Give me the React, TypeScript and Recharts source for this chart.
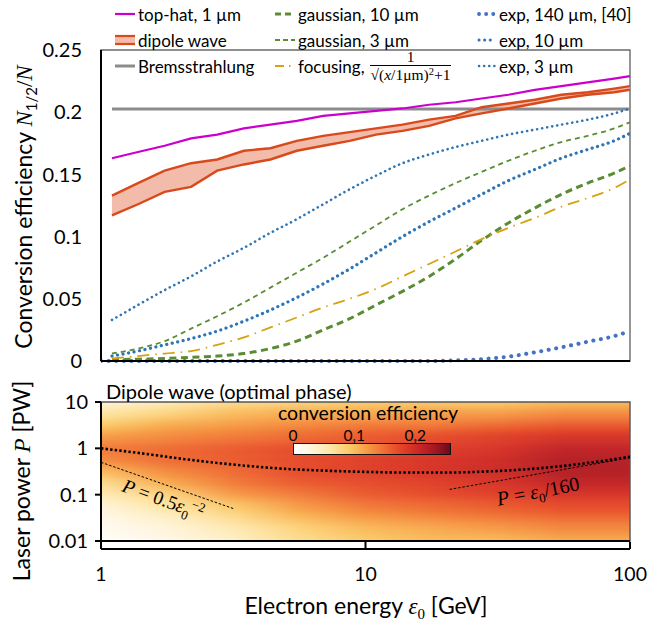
import React from 'react';
import { ComposedChart, Line, Area, XAxis, YAxis, ReferenceArea, ReferenceLine } from 'recharts';

const FONT = 'Lato, "Open Sans", sans-serif';
const MATH = '"Liberation Serif", "DejaVu Serif", serif';

// ---------- top panel: conversion efficiency vs electron energy ----------
// first row (1 GeV) only carries the exp 140 µm curve
const energy = [1, 1.1, 1.38, 1.74, 2.19, 2.75, 3.47, 4.37, 5.5, 6.92, 8.71, 10.96, 13.8, 17.4, 21.9, 27.5, 34.7, 43.7, 55, 69.2, 87.1, 100];
const topHat = [null, 0.163, 0.168, 0.173, 0.179, 0.182, 0.187, 0.19, 0.193, 0.197, 0.199, 0.201, 0.203, 0.206, 0.208, 0.211, 0.214, 0.218, 0.221, 0.224, 0.227, 0.229];
const dipoleHi = [null, 0.133, 0.143, 0.153, 0.159, 0.162, 0.169, 0.171, 0.177, 0.181, 0.184, 0.187, 0.19, 0.194, 0.197, 0.204, 0.207, 0.21, 0.214, 0.216, 0.219, 0.221];
const dipoleLo = [null, 0.117, 0.126, 0.136, 0.14, 0.153, 0.158, 0.162, 0.169, 0.173, 0.177, 0.182, 0.185, 0.189, 0.195, 0.199, 0.203, 0.207, 0.211, 0.214, 0.216, 0.218];
const brems = [null, 0.2026, 0.2026, 0.2026, 0.2026, 0.2026, 0.2026, 0.2026, 0.2026, 0.2026, 0.2026, 0.2026, 0.2026, 0.2026, 0.2026, 0.2026, 0.2026, 0.2026, 0.2026, 0.2026, 0.2026, 0.2026];
const gauss10 = [null, 0.001, 0.0015, 0.002, 0.003, 0.004, 0.006, 0.01, 0.016, 0.025, 0.034, 0.045, 0.056, 0.068, 0.082, 0.097, 0.111, 0.123, 0.134, 0.143, 0.151, 0.157];
const gauss3 = [null, 0.006, 0.01, 0.016, 0.026, 0.036, 0.047, 0.059, 0.071, 0.083, 0.096, 0.109, 0.122, 0.133, 0.143, 0.152, 0.161, 0.169, 0.176, 0.181, 0.187, 0.192];
const focusing = [null, 0.002, 0.004, 0.006, 0.008, 0.013, 0.019, 0.027, 0.035, 0.043, 0.05, 0.058, 0.068, 0.078, 0.088, 0.098, 0.107, 0.115, 0.124, 0.131, 0.139, 0.146];
const exp140 = [0, 0, 0, 0, 0, 0, 0, 0, 0, 0, 0, 0, 0, 0, 0.0005, 0.0015, 0.0035, 0.007, 0.011, 0.0155, 0.02, 0.024];
const exp10 = [null, 0.004, 0.008, 0.013, 0.018, 0.024, 0.032, 0.041, 0.051, 0.062, 0.074, 0.087, 0.1, 0.112, 0.123, 0.134, 0.145, 0.154, 0.163, 0.17, 0.177, 0.183];
const exp3 = [null, 0.033, 0.045, 0.057, 0.068, 0.08, 0.091, 0.103, 0.114, 0.126, 0.138, 0.149, 0.159, 0.166, 0.172, 0.177, 0.182, 0.186, 0.19, 0.194, 0.199, 0.203];
const effTicks = [0, 0.05, 0.1, 0.15, 0.2, 0.25];

const topData = energy.map((x, i) => ({
  x,
  topHat: topHat[i],
  dipoleLo: dipoleLo[i],
  dipoleHi: dipoleHi[i],
  brems: brems[i],
  gauss10: gauss10[i],
  gauss3: gauss3[i],
  focusing: focusing[i],
  exp140: exp140[i],
  exp10: exp10[i],
  exp3: exp3[i],
}));

// ---------- bottom panel: dipole wave efficiency map ----------
const heatE = [1, 1.78, 3.16, 5.62, 10, 17.8, 31.6, 56.2, 100];
const heatP = [10, 5.62, 3.16, 1.78, 1, 0.562, 0.316, 0.178, 0.1, 0.0562, 0.0316, 0.0178, 0.01];
// rows follow heatP (top to bottom), columns follow heatE
const heatEff = [
  [0.03, 0.05, 0.07, 0.08, 0.09, 0.09, 0.09, 0.1, 0.1],
  [0.06, 0.08, 0.1, 0.11, 0.11, 0.12, 0.12, 0.13, 0.13],
  [0.09, 0.11, 0.12, 0.13, 0.14, 0.14, 0.15, 0.16, 0.16],
  [0.12, 0.13, 0.14, 0.15, 0.16, 0.17, 0.18, 0.19, 0.19],
  [0.14, 0.15, 0.16, 0.17, 0.17, 0.18, 0.19, 0.21, 0.21],
  [0.13, 0.15, 0.16, 0.17, 0.18, 0.19, 0.2, 0.22, 0.22],
  [0.1, 0.13, 0.15, 0.17, 0.18, 0.19, 0.2, 0.22, 0.22],
  [0.07, 0.11, 0.14, 0.16, 0.17, 0.18, 0.19, 0.21, 0.21],
  [0.05, 0.08, 0.12, 0.14, 0.16, 0.17, 0.18, 0.19, 0.19],
  [0.03, 0.06, 0.09, 0.12, 0.14, 0.15, 0.16, 0.17, 0.17],
  [0.02, 0.04, 0.07, 0.1, 0.12, 0.13, 0.14, 0.15, 0.15],
  [0.01, 0.03, 0.05, 0.08, 0.1, 0.11, 0.12, 0.13, 0.13],
  [0.005, 0.02, 0.04, 0.07, 0.09, 0.1, 0.1, 0.11, 0.11],
];
const optE = [1, 1.5, 2, 3, 5, 7, 10, 15, 20, 30, 45, 65, 100];
const optP = [1.0, 0.75, 0.6, 0.46, 0.36, 0.33, 0.31, 0.3, 0.3, 0.32, 0.37, 0.46, 0.66];
const lowGuideE = [1, 3.2];
const lowGuideP = [0.5, 0.049];
const highGuideE = [20.8, 100];
const highGuideP = [0.13, 0.625];
const powerTicks = [0.01, 0.1, 1, 10];
const energyTicks = [1, 10, 100];
const cbarTicks = [0, 0.1, 0.2];
const CBAR_MAX = 0.255;

// colour map (white -> yellow -> orange -> red -> dark red)
const CMAP: [number, string][] = [
  [0, '#ffffff'],
  [0.03, '#fff4da'],
  [0.06, '#fde5a4'],
  [0.09, '#fbcb6a'],
  [0.11, '#f8ab4e'],
  [0.13, '#f38a3e'],
  [0.15, '#ee6a32'],
  [0.17, '#e64a2a'],
  [0.19, '#d73326'],
  [0.21, '#c22326'],
  [0.23, '#a41822'],
  [0.255, '#6e0a1c'],
];

function hexToRgb(h: string) {
  return [1, 3, 5].map((i) => parseInt(h.slice(i, i + 2), 16));
}

function heatColor(v: number) {
  for (let i = 1; i < CMAP.length; i++) {
    if (v <= CMAP[i][0]) {
      const [v0, c0] = CMAP[i - 1];
      const [v1, c1] = CMAP[i];
      const t = (v - v0) / (v1 - v0);
      const a = hexToRgb(c0);
      const b = hexToRgb(c1);
      const m = a.map((x, k) => Math.round(x + (b[k] - x) * t));
      return `rgb(${m.join(',')})`;
    }
  }
  return CMAP[CMAP.length - 1][1];
}

const lgE = heatE.map((e) => Math.log10(e));
const lgP = heatP.map((p) => Math.log10(p));
const X_EXT = 0.3;
const Y_EXT = 0.6;
const xLo = lgE[0] - X_EXT;
const xHi = lgE[lgE.length - 1] + X_EXT;

const heatRows = heatP.map((p, i) => {
  const top = i === 0 ? lgP[i] + Y_EXT : (lgP[i] + lgP[i - 1]) / 2;
  const bot = i === heatP.length - 1 ? lgP[i] - Y_EXT : (lgP[i] + lgP[i + 1]) / 2;
  return { id: `heatRow${i}`, y1: Math.pow(10, bot), y2: Math.pow(10, top), values: heatEff[i] };
});

const PLOT_L = 101;
const PLOT_R = 630;
const HEAT_T = 402;
const HEAT_B = 541;
const HEAT_PAD = 22;

const axisText = { fontSize: 20, fill: '#000', fontFamily: FONT };

function VLabel({ cx, cy, size = 23, children }: { cx: number; cy: number; size?: number; children: React.ReactNode }) {
  return (
    <div
      style={{
        position: 'absolute',
        left: cx - 200,
        top: cy - 15,
        width: 400,
        height: 30,
        lineHeight: '30px',
        textAlign: 'center',
        transform: 'rotate(-90deg)',
        fontSize: size,
        whiteSpace: 'nowrap',
      }}
    >
      {children}
    </div>
  );
}

function Sample({ kind }: { kind: string }) {
  const line = (props: any) => (
    <svg width={20} height={12}>
      <line x1={0} y1={6} x2={20} y2={6} {...props} />
    </svg>
  );
  switch (kind) {
    case 'topHat':
      return line({ stroke: '#cc00cc', strokeWidth: 2.2 });
    case 'dipole':
      return (
        <svg width={20} height={12}>
          <rect x={0} y={2} width={20} height={8} fill="#f3bba9" />
          <line x1={0} y1={2} x2={20} y2={2} stroke="#d84a1b" strokeWidth={2.2} />
          <line x1={0} y1={10} x2={20} y2={10} stroke="#d84a1b" strokeWidth={2.2} />
        </svg>
      );
    case 'brems':
      return line({ stroke: '#8c8c8c', strokeWidth: 3 });
    case 'gauss10':
      return line({ stroke: '#5a8c34', strokeWidth: 3, strokeDasharray: '6 4' });
    case 'gauss3':
      return line({ stroke: '#5a8c34', strokeWidth: 1.8, strokeDasharray: '5 3' });
    case 'focusing':
      return line({ stroke: '#d6a20e', strokeWidth: 1.8, strokeDasharray: '9 5 1.5 5' });
    case 'exp140':
      return line({ stroke: '#4472c4', strokeWidth: 3.8, strokeDasharray: '0.1 7', strokeLinecap: 'round', x1: 3, x2: 19 });
    case 'exp10':
      return line({ stroke: '#2e75b6', strokeWidth: 3, strokeDasharray: '0.1 5.5', strokeLinecap: 'round', x1: 3, x2: 19 });
    default:
      return line({ stroke: '#2e75b6', strokeWidth: 2.5, strokeDasharray: '0.1 5', strokeLinecap: 'round', x1: 3, x2: 19 });
  }
}

const legendCols = [115, 275, 476];
const legendRows = [14, 40, 66];
const legendItems: { kind: string; col: number; row: number; label: React.ReactNode }[] = [
  { kind: 'topHat', col: 0, row: 0, label: 'top-hat, 1 µm' },
  { kind: 'dipole', col: 0, row: 1, label: 'dipole wave' },
  { kind: 'brems', col: 0, row: 2, label: 'Bremsstrahlung' },
  { kind: 'gauss10', col: 1, row: 0, label: 'gaussian, 10 µm' },
  { kind: 'gauss3', col: 1, row: 1, label: 'gaussian, 3 µm' },
  {
    kind: 'focusing',
    col: 1,
    row: 2,
    label: (
      <span style={{ display: 'inline-flex', alignItems: 'center' }}>
        focusing,
        <span style={{ display: 'inline-flex', flexDirection: 'column', alignItems: 'center', marginLeft: 5, fontFamily: MATH, fontSize: 15.5, lineHeight: '16px' }}>
          <span>1</span>
          <span style={{ borderTop: '1.8px solid #000', padding: '1px 1px 0' }}>
            √(<i>x</i>/1μm)<sup style={{ fontSize: 10.5, verticalAlign: 'top', lineHeight: '10px' }}>2</sup>+1
          </span>
        </span>
      </span>
    ),
  },
  { kind: 'exp140', col: 2, row: 0, label: 'exp, 140 µm, [40]' },
  { kind: 'exp10', col: 2, row: 1, label: 'exp, 10 µm' },
  { kind: 'exp3', col: 2, row: 2, label: 'exp, 3 µm' },
];

export default function App() {
  const cbarGradient = `linear-gradient(to right, ${CMAP.map(([v, c]) => `${c} ${(v / CBAR_MAX) * 100}%`).join(', ')})`;
  const cbarL = 293;
  const cbarW = 156;

  return (
    <div style={{ position: 'absolute', left: 0, top: 0, width: 648, height: 623, fontFamily: FONT, color: '#000', background: '#fff', overflow: 'hidden' }}>
      {/* top panel */}
      <div style={{ position: 'absolute', left: 0, top: 0 }}>
        <ComposedChart width={648} height={380} data={topData} margin={{ top: 50, right: 648 - PLOT_R, bottom: 19, left: 0 }}>
          <XAxis type="number" dataKey="x" scale="log" domain={[1, 100]} allowDataOverflow hide />
          <YAxis
            type="number"
            domain={[0, 0.25]}
            ticks={effTicks}
            width={PLOT_L}
            tickLine={false}
            tickSize={6}
            tickMargin={13}
            axisLine={{ stroke: '#000', strokeWidth: 2 }}
            tick={axisText}
            tickFormatter={(v) => String(v)}
          />
          <ReferenceArea x1={1} x2={100} y1={0} y2={0.25} fill="none" stroke="#6a6a6a" strokeWidth={1.4} ifOverflow="visible" />
          <Area
            dataKey={(d: any) => (d.dipoleLo == null ? null : [d.dipoleLo, d.dipoleHi])}
            type="linear"
            fill="#f3bba9"
            fillOpacity={1}
            stroke="none"
            isAnimationActive={false}
          />
          <Line dataKey="brems" type="linear" stroke="#8c8c8c" strokeWidth={3} dot={false} activeDot={false} isAnimationActive={false} />
          <Line dataKey="exp140" type="monotone" stroke="#4472c4" strokeWidth={4} strokeDasharray="0.1 7.5" strokeLinecap="round" dot={false} activeDot={false} isAnimationActive={false} />
          <Line dataKey="gauss10" type="monotone" stroke="#5a8c34" strokeWidth={3} strokeDasharray="7 4.5" dot={false} activeDot={false} isAnimationActive={false} />
          <Line dataKey="gauss3" type="monotone" stroke="#5a8c34" strokeWidth={1.8} strokeDasharray="5 4" dot={false} activeDot={false} isAnimationActive={false} />
          <Line dataKey="focusing" type="monotone" stroke="#d6a20e" strokeWidth={1.8} strokeDasharray="12 6 1.5 6" dot={false} activeDot={false} isAnimationActive={false} />
          <Line dataKey="exp10" type="monotone" stroke="#2e75b6" strokeWidth={3.2} strokeDasharray="0.1 5.5" strokeLinecap="round" dot={false} activeDot={false} isAnimationActive={false} />
          <Line dataKey="exp3" type="monotone" stroke="#2e75b6" strokeWidth={2.6} strokeDasharray="0.1 5" strokeLinecap="round" dot={false} activeDot={false} isAnimationActive={false} />
          <Line dataKey="dipoleLo" type="linear" stroke="#d84a1b" strokeWidth={2.4} dot={false} activeDot={false} isAnimationActive={false} />
          <Line dataKey="dipoleHi" type="linear" stroke="#d84a1b" strokeWidth={2.4} dot={false} activeDot={false} isAnimationActive={false} />
          <Line dataKey="topHat" type="linear" stroke="#cc00cc" strokeWidth={2.2} dot={false} activeDot={false} isAnimationActive={false} />
          <ReferenceLine y={0} stroke="#000" strokeWidth={2} ifOverflow="visible" />
        </ComposedChart>
      </div>

      {/* legend */}
      {legendItems.map((it) => (
        <div
          key={it.kind}
          style={{
            position: 'absolute',
            left: legendCols[it.col],
            top: legendRows[it.row] - 12,
            height: 24,
            display: 'flex',
            alignItems: 'center',
            fontSize: 17,
            whiteSpace: 'nowrap',
          }}
        >
          <Sample kind={it.kind} />
          <span style={{ marginLeft: 3 }}>{it.label}</span>
        </div>
      ))}

      <VLabel cx={23} cy={207}>
        Conversion efficiency{' '}
        <span style={{ fontFamily: MATH, fontStyle: 'italic' }}>N</span>
        <span style={{ fontSize: 15, position: 'relative', top: 5 }}>1/2</span>
        <span style={{ fontFamily: MATH }}>/</span>
        <span style={{ fontFamily: MATH, fontStyle: 'italic' }}>N</span>
      </VLabel>

      {/* heat map */}
      <div style={{ position: 'absolute', left: PLOT_L, top: HEAT_T, width: PLOT_R - PLOT_L, height: HEAT_B - HEAT_T, overflow: 'hidden' }}>
        <div style={{ position: 'absolute', left: -HEAT_PAD, top: -HEAT_PAD, filter: 'blur(4px)' }}>
          <ComposedChart
            width={PLOT_R - PLOT_L + 2 * HEAT_PAD}
            height={HEAT_B - HEAT_T + 2 * HEAT_PAD}
            data={heatE.map((e) => ({ e }))}
            margin={{ top: HEAT_PAD, right: HEAT_PAD, bottom: HEAT_PAD, left: HEAT_PAD }}
          >
            <defs>
              {heatRows.map((r) => (
                <linearGradient key={r.id} id={r.id} x1="0" y1="0" x2="1" y2="0">
                  {r.values.map((v, j) => (
                    <stop key={j} offset={(lgE[j] - xLo) / (xHi - xLo)} stopColor={heatColor(v)} />
                  ))}
                </linearGradient>
              ))}
            </defs>
            <XAxis type="number" dataKey="e" scale="log" domain={[1, 100]} allowDataOverflow hide />
            <YAxis type="number" scale="log" domain={[0.01, 10]} allowDataOverflow hide />
            {heatRows.map((r) => (
              <ReferenceArea
                key={r.id}
                x1={Math.pow(10, xLo)}
                x2={Math.pow(10, xHi)}
                y1={r.y1}
                y2={r.y2}
                fill={`url(#${r.id})`}
                fillOpacity={1}
                stroke="none"
                ifOverflow="visible"
              />
            ))}
          </ComposedChart>
        </div>
      </div>

      {/* heat map overlay: axes and curves */}
      <div style={{ position: 'absolute', left: 0, top: 380 }}>
        <ComposedChart width={648} height={180} margin={{ top: HEAT_T - 380, right: 648 - PLOT_R, bottom: 560 - HEAT_B, left: 0 }}>
          <XAxis type="number" dataKey="e" scale="log" domain={[1, 100]} allowDataOverflow hide />
          <YAxis
            type="number"
            scale="log"
            domain={[0.01, 10]}
            allowDataOverflow
            ticks={powerTicks}
            width={PLOT_L}
            tickSize={6}
            tickMargin={7}
            axisLine={{ stroke: '#000', strokeWidth: 2 }}
            tickLine={{ stroke: '#000', strokeWidth: 2 }}
            tick={axisText}
            tickFormatter={(v) => String(v)}
          />
          <ReferenceArea x1={1} x2={100} y1={0.01} y2={10} fill="none" stroke="#555" strokeWidth={1.4} ifOverflow="visible" />
          <ReferenceLine y={0.01} stroke="#000" strokeWidth={2} ifOverflow="visible" />
          <Line
            data={optE.map((e, i) => ({ e, p: optP[i] }))}
            dataKey="p"
            type="monotone"
            stroke="#000"
            strokeWidth={2.6}
            strokeDasharray="2.4 2.2"
            dot={false}
            activeDot={false}
            isAnimationActive={false}
          />
          <Line
            data={lowGuideE.map((e, i) => ({ e, p: lowGuideP[i] }))}
            dataKey="p"
            type="linear"
            stroke="#000"
            strokeWidth={1}
            strokeDasharray="2.5 1.8"
            dot={false}
            activeDot={false}
            isAnimationActive={false}
          />
          <Line
            data={highGuideE.map((e, i) => ({ e, p: highGuideP[i] }))}
            dataKey="p"
            type="linear"
            stroke="#000"
            strokeWidth={1}
            strokeDasharray="2.5 1.8"
            dot={false}
            activeDot={false}
            isAnimationActive={false}
          />
        </ComposedChart>
      </div>

      {/* bottom energy axis */}
      <div style={{ position: 'absolute', left: 0, top: 520 }}>
        <ComposedChart width={648} height={103} data={heatE.map((e) => ({ e }))} margin={{ top: 5, right: 648 - PLOT_R, bottom: 0, left: PLOT_L }}>
          <XAxis
            type="number"
            dataKey="e"
            scale="log"
            domain={[1, 100]}
            allowDataOverflow
            ticks={energyTicks}
            height={74}
            tickSize={-7}
            tickMargin={25}
            axisLine={{ stroke: '#000', strokeWidth: 2 }}
            tickLine={{ stroke: '#000', strokeWidth: 2 }}
            tick={{ ...axisText, fontSize: 19.5 }}
            tickFormatter={(v) => String(v)}
          />
          <YAxis type="number" domain={[0, 1]} hide />
        </ComposedChart>
      </div>

      {/* heat map texts */}
      <div style={{ position: 'absolute', left: 106, top: 380, height: 22, lineHeight: '22px', fontSize: 20, whiteSpace: 'nowrap' }}>
        Dipole wave (optimal phase)
      </div>
      <div style={{ position: 'absolute', left: 268, top: 402, width: 200, height: 22, lineHeight: '22px', fontSize: 19.5, textAlign: 'center', whiteSpace: 'nowrap' }}>
        conversion efficiency
      </div>
      {cbarTicks.map((t) => (
        <div
          key={t}
          style={{ position: 'absolute', left: cbarL + (t / CBAR_MAX) * cbarW - 20, top: 426, width: 40, height: 18, lineHeight: '18px', fontSize: 15.5, textAlign: 'center' }}
        >
          {String(t).replace('.', ',')}
        </div>
      ))}
      {cbarTicks.slice(1).map((t) => (
        <div key={`tk${t}`} style={{ position: 'absolute', left: cbarL + (t / CBAR_MAX) * cbarW - 0.5, top: 440, width: 1, height: 4, background: '#333' }} />
      ))}
      <div style={{ position: 'absolute', left: cbarL, top: 443, width: cbarW, height: 10, background: cbarGradient, border: '1.5px solid #111' }} />

      <div style={{ position: 'absolute', left: 163 - 60, top: 500 - 12, width: 120, height: 24, lineHeight: '24px', textAlign: 'center', transform: 'rotate(20deg)', fontFamily: MATH, fontSize: 19.5, whiteSpace: 'nowrap' }}>
        <i>P</i> = 0.5<i>ε</i>
        <span style={{ fontSize: 13, position: 'relative', top: 5 }}>0</span>
        <span style={{ fontSize: 13, position: 'relative', top: -8 }}>−2</span>
      </div>
      <div style={{ position: 'absolute', left: 538 - 60, top: 491 - 12, width: 120, height: 24, lineHeight: '24px', textAlign: 'center', transform: 'rotate(-11deg)', fontFamily: MATH, fontSize: 20, whiteSpace: 'nowrap' }}>
        <i>P</i> = <i>ε</i>
        <span style={{ fontSize: 13, position: 'relative', top: 5 }}>0</span>/160
      </div>

      <VLabel cx={21} cy={481}>
        Laser power <span style={{ fontFamily: MATH, fontStyle: 'italic' }}>P</span> [PW]
      </VLabel>

      <div style={{ position: 'absolute', left: 166, top: 591, width: 400, height: 28, lineHeight: '28px', textAlign: 'center', fontSize: 23, whiteSpace: 'nowrap' }}>
        Electron energy <span style={{ fontFamily: MATH, fontStyle: 'italic' }}>ε</span>
        <span style={{ fontFamily: MATH, fontSize: 15, position: 'relative', top: 5 }}>0</span> [GeV]
      </div>
    </div>
  );
}
